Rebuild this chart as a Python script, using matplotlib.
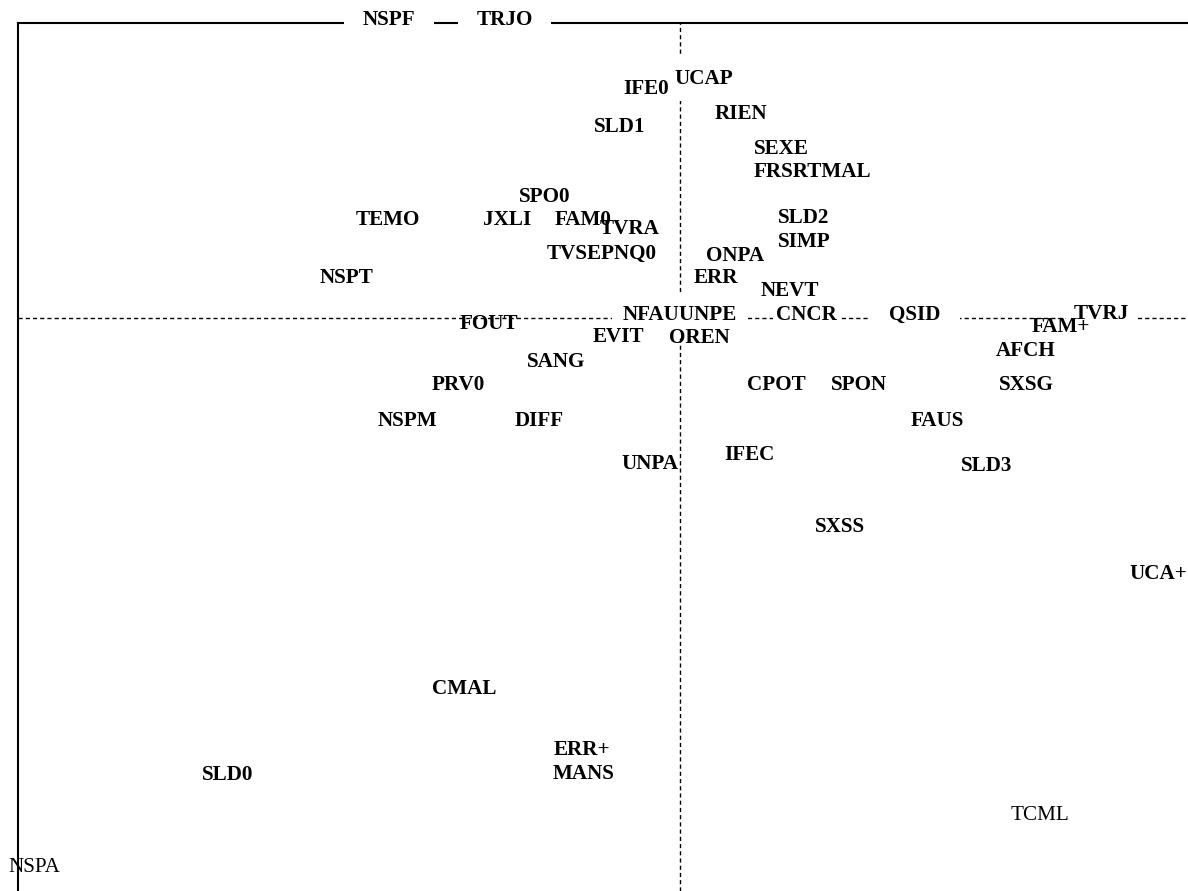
import matplotlib
matplotlib.use('Agg')
import matplotlib.pyplot as plt

# factorial plane coordinates (axis 1, axis 2) of the modalities
labels = ['NSPF', 'TRJO', 'IFE0', 'UCAP', 'RIEN', 'SLD1', 'SEXE', 'FRSRTMAL',
          'SPO0', 'JXLI', 'FAM0', 'TVRA', 'TVSEPNQ0', 'TEMO', 'NSPT',
          'SLD2', 'SIMP', 'ONPA', 'ERR', 'NEVT',
          'NFAUUNPE', 'CNCR', 'QSID', 'TVRJ', 'FAM+', 'AFCH', 'EVIT', 'OREN',
          'FOUT', 'SANG', 'PRV0', 'NSPM', 'DIFF', 'CPOT', 'SPON', 'SXSG',
          'FAUS', 'IFEC', 'UNPA', 'SLD3', 'SXSS', 'UCA+', 'CMAL',
          'ERR+', 'MANS', 'SLD0', 'TCML', 'NSPA']
axis1 = [-0.970, -0.585, -0.115, 0.078, 0.203, -0.203, 0.337, 0.442,
         -0.450, -0.575, -0.325, -0.167, -0.263, -0.975, -1.113,
         0.413, 0.415, 0.183, 0.118, 0.367,
         0.000, 0.422, 0.783, 1.403, 1.270, 1.153, -0.205, 0.065,
         -0.638, -0.413, -0.738, -0.908, -0.470, 0.322, 0.598, 1.153,
         0.857, 0.230, -0.102, 1.022, 0.533, 1.595, -0.720,
         -0.328, -0.323, -1.507, 1.200, -2.154]
axis2 = [0.992, 0.992, 0.763, 0.798, 0.680, 0.638, 0.562, 0.485,
         0.403, 0.327, 0.327, 0.295, 0.212, 0.325, 0.133,
         0.332, 0.253, 0.207, 0.132, 0.090,
         0.009, 0.010, 0.010, 0.013, -0.030, -0.110, -0.065, -0.067,
         -0.020, -0.148, -0.225, -0.342, -0.342, -0.222, -0.222, -0.222,
         -0.345, -0.458, -0.488, -0.495, -0.697, -0.853, -1.237,
         -1.440, -1.520, -1.525, -1.660, -1.833]

# supplementary modalities are written in normal weight
supplementary = ['TCML', 'NSPA']
# labels sitting on an axis get a white background
masked = {'NSPF': 0.9, 'TRJO': 0.85, 'UCAP': 0.6, 'NFAUUNPE': 0.5,
          'CNCR': 0.15, 'QSID': 0.9, 'TVRJ': 0.35}

fig = plt.figure(figsize=(11.88, 8.91), dpi=100)
ax = fig.add_axes([18.3 / 1188, 0.0, 1 - 18.3 / 1188, (891 - 22.7) / 891])
ax.set_xlim(-2.206, 1.693)
ax.set_ylim(-1.910, 0.984)

for side in ['right', 'bottom']:
    ax.spines[side].set_visible(False)
for side in ['left', 'top']:
    ax.spines[side].set_linewidth(1.5)
    ax.spines[side].set_zorder(0.5)
ax.set_xticks([])
ax.set_yticks([])

ax.axhline(0, color='k', linewidth=1.0, linestyle=(0, (3.0, 2.2)), zorder=1)
ax.axvline(0, color='k', linewidth=1.0, linestyle=(0, (3.0, 2.2)), zorder=1)

for lab, x, y in zip(labels, axis1, axis2):
    weight = 'normal' if lab in supplementary else 'bold'
    box = None
    z = 4
    if lab in masked:
        box = dict(boxstyle='square,pad=%.2f' % masked[lab], fc='white', ec='none')
        z = 3
    ax.text(x, y, lab, ha='center', va='center', family='Liberation Serif',
            fontweight=weight, fontsize=15.2, color='black', bbox=box,
            zorder=z, clip_on=False)

plt.savefig('out.png', dpi=100)
